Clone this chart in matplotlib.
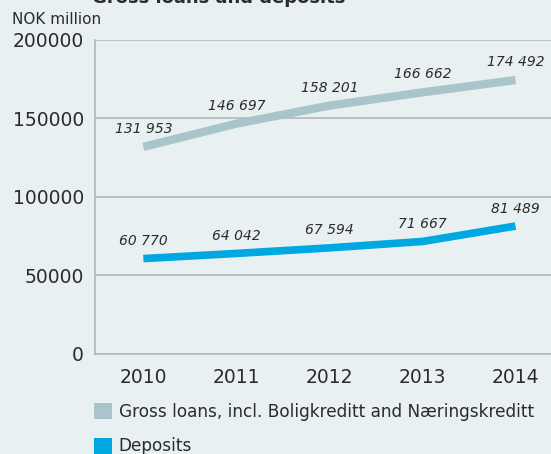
import matplotlib.pyplot as plt
from matplotlib.patches import Patch

years = [2010, 2011, 2012, 2013, 2014]
gross_loans = [131953, 146697, 158201, 166662, 174492]
deposits = [60770, 64042, 67594, 71667, 81489]
series_names = ["Gross loans, incl. Boligkreditt and Næringskreditt", "Deposits"]

bg = "#e9f0f2"
loan_col = "#a9c5cc"
dep_col = "#00a8e1"
grid_col = "#b4b7b9"
text_col = "#2b2b2b"

plt.rcParams["font.family"] = ["DejaVu Sans"]

fig = plt.figure(figsize=(5.51, 4.54), dpi=100, facecolor=bg)
ax = fig.add_axes([0.1724, 0.2203, 0.8475, 0.6916], facecolor=bg)

ax.plot(years, gross_loans, color=loan_col, lw=6, solid_capstyle="butt", solid_joinstyle="round")
ax.plot(years, deposits, color=dep_col, lw=5.5, solid_capstyle="butt", solid_joinstyle="round")


def fmt(v):
    return f"{v:,}".replace(",", " ")


for x, v in zip(years, gross_loans):
    ax.annotate(fmt(v), (x, v), xytext=(0, 8), textcoords="offset points",
                ha="center", va="bottom", style="italic", fontsize=10, color=text_col)
for x, v in zip(years, deposits):
    ax.annotate(fmt(v), (x, v), xytext=(0, 7.5), textcoords="offset points",
                ha="center", va="bottom", style="italic", fontsize=10, color=text_col)

ax.set_xlim(2009.48, 2014.5)
ax.set_ylim(0, 200000)
ax.set_yticks([0, 50000, 100000, 150000, 200000])
ax.set_xticks(years)
ax.tick_params(axis="both", length=0, labelsize=13.5, colors=text_col)
ax.tick_params(axis="x", pad=10)
ax.tick_params(axis="y", pad=8)
ax.grid(axis="y", color=grid_col, lw=1.2)
ax.set_axisbelow(True)
for side in ["top", "right"]:
    ax.spines[side].set_visible(False)
for side in ["left", "bottom"]:
    ax.spines[side].set_color(grid_col)
    ax.spines[side].set_linewidth(1.2)

fig.text(0.022, 0.941, "NOK million", fontsize=11, color=text_col, va="bottom")
fig.text(0.167, 0.994, "Gross loans and deposits", fontsize=13, fontweight="bold",
         color=text_col, va="baseline")

handles = [Patch(facecolor=loan_col), Patch(facecolor=dep_col)]
fig.legend(handles, series_names, loc="upper left", bbox_to_anchor=(0.17, 0.113),
           frameon=False, fontsize=12.2, handlelength=1.08, handleheight=1.08,
           handletextpad=0.4, labelspacing=0.98, borderaxespad=0, borderpad=0,
           labelcolor=text_col)

fig.savefig("out.png", dpi=100, facecolor=bg)
